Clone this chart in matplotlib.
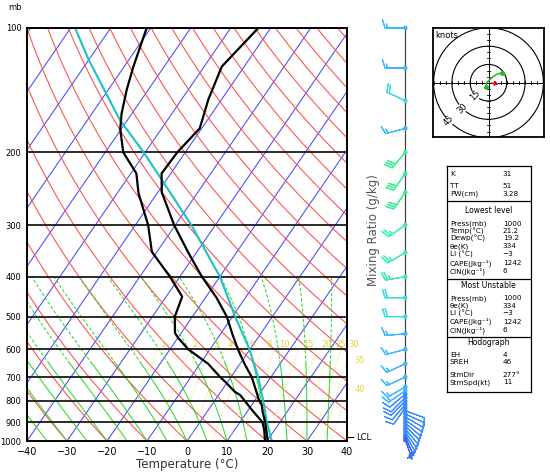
import numpy as np
import matplotlib.pyplot as plt
from matplotlib.colors import LinearSegmentedColormap
from matplotlib.ticker import NullLocator

# sounding (hPa, degC)
p_temp = [1000, 950, 900, 850, 818, 800, 750, 700, 650, 600, 550, 500, 450, 400,
          350, 300, 250, 225, 200, 175, 149, 124, 100]
t_temp = [20.2, 18.3, 16.3, 13.9, 12.5, 11.2, 8.3, 5.2, 1.1, -3.0, -7.1, -11.4, -17.2, -24.5,
          -32.0, -40.3, -49.0, -52.3, -52.0, -50.5, -53.3, -55.6, -53.1]

p_dewp = [1000, 940, 900, 841, 800, 774, 760, 718, 700, 650, 600, 563, 547, 500, 447, 400,
          361, 348, 300, 251, 225, 200, 176, 161, 141, 124, 100]
t_dewp = [19.5, 17.4, 15.6, 10.9, 7.6, 5.4, 3.5, -0.7, -2.7, -8.0, -15.4, -19.9, -21.6, -24.4,
          -26.0, -32.5, -39.0, -41.3, -46.8, -54.7, -58.6, -65.5, -70.2, -72.6, -75.4, -77.7, -81.0]

p_parcel = [1000, 900, 800, 700, 600, 500, 400, 300, 236, 200, 167, 119, 100]
t_parcel = [21.2, 16.7, 12.2, 6.8, -0.1, -9.3, -20.0, -36.0, -50.4, -60.4, -71.9, -90.2, -98.9]

p_lcl = 978

# winds: pressure (hPa), direction (deg), speed (kt)
p_wind = [100, 125, 150, 175, 200, 225, 250, 300, 350, 400, 450, 500, 550, 600, 650, 700,
          740, 755, 770, 785, 800, 815, 830, 845, 860, 875, 890, 905, 920, 935, 950, 965, 980, 995]
wdir = [270, 270, 295, 255, 220, 215, 215, 235, 240, 260, 270, 270, 265, 255, 245, 245,
        240, 235, 230, 225, 225, 220, 215, 110, 115, 120, 125, 130, 135, 140, 145, 150, 155, 160]
wspd = [15, 15, 20, 15, 30, 30, 30, 25, 25, 25, 20, 20, 15, 15, 15, 15,
        15, 15, 10, 10, 10, 10, 10, 10, 10, 10, 10, 10, 10, 10, 10, 10, 5, 5]

# hodograph trace (kt) and storm motion
hodo_u = [-1.9, -1.9, -0.8, 2.7, 6.3, 10.9]
hodo_v = [-3.6, -0.8, 0.8, 4.1, 6.8, 8.2]
storm_dir = 277
storm_spd = 11

p_levels = [100, 200, 300, 400, 500, 600, 700, 800, 900, 1000]
t_ticks = [-40, -30, -20, -10, 0, 10, 20, 30, 40]
mixr_vals = [1, 2, 3, 4, 6, 8, 10, 15, 20, 25, 30, 35, 40]

stab_labels = ['K', 'TT', 'PW(cm)']
stab_values = ['31', '51', '3.28']
low_labels = ['Press(mb)', 'Temp(°C)', 'Dewp(°C)', 'θe(K)', 'LI (°C)',
              'CAPE(Jkg⁻¹)', 'CIN(Jkg⁻¹)']
low_values = ['1000', '21.2', '19.2', '334', '\u22123', '1242', '6']
mu_labels = ['Press(mb)', 'θe(K)', 'LI (°C)', 'CAPE(Jkg⁻¹)', 'CIN(Jkg⁻¹)']
mu_values = ['1000', '334', '\u22123', '1242', '6']
hod_labels = ['EH', 'SREH', 'StmDir', 'StmSpd(kt)']
hod_values = ['4', '46', '277°', '11']

K = 30.8  # skew, degC per ln(p)


def skx(t, p):
    return np.asarray(t, dtype=float) + K * np.log(1000.0 / np.asarray(p, dtype=float))


def moist_adiabat(t0, p):
    # pseudo-adiabat from t0 (degC) at p[0], RK4 in pressure
    Rd, Cp, Lv, eps = 287.04, 1005.7, 2.501e6, 0.622

    def rate(T, pp):
        es = 6.112 * np.exp(17.67 * (T - 273.15) / (T - 29.65))
        rs = eps * es / (pp - es)
        return (Rd * T + Lv * rs) / (pp * (Cp + Lv ** 2 * rs * eps / (Rd * T ** 2)))

    out = [t0 + 273.15]
    for i in range(1, len(p)):
        h = p[i] - p[i - 1]
        T, pp = out[-1], p[i - 1]
        k1 = rate(T, pp)
        k2 = rate(T + h * k1 / 2, pp + h / 2)
        k3 = rate(T + h * k2 / 2, pp + h / 2)
        k4 = rate(T + h * k3, pp + h)
        out.append(T + h * (k1 + 2 * k2 + 2 * k3 + k4) / 6)
    return np.array(out) - 273.15


W, H = 550, 473
fig = plt.figure(figsize=(5.5, 4.73), dpi=100)
bot, hgt = (H - 441) / H, 413 / H
ax = fig.add_axes([27 / W, bot, 320 / W, hgt])
ax.set_yscale('log')
ax.set_xlim(-40, 40)
ax.set_ylim(1000, 100)

pf = np.logspace(3, 2, 200)
for t0 in range(-120, 50, 10):
    ax.plot(skx(t0, pf), pf, color='#4848ff', lw=0.75)
for t0 in range(-40, 210, 10):
    th = t0 + 273.15
    ax.plot(skx(th * (pf / 1000) ** 0.2857 - 273.15, pf), pf, color='#ff4c4c', lw=0.75)

pm = np.arange(1000, 399, -5.0)
for t0 in range(-40, 40, 5):
    tm = moist_adiabat(t0, pm)
    lo = pm >= 650
    hi = pm <= 650
    ax.plot(skx(tm[lo], pm[lo]), pm[lo], color='#2ed82e', lw=0.75)
    ax.plot(skx(tm[hi], pm[hi]), pm[hi], color='#2ed82e', lw=0.75, ls=(0, (3, 2)))

pw = np.linspace(1000, 600, 60)
for w in mixr_vals:
    e = pw * w / (622.0 + w)
    a = np.log(e / 6.112)
    xw = skx(243.5 * a / (17.67 - a), pw)
    ax.plot(xw, pw, color='#ece27a', lw=0.8, ls=':')
    if xw[-1] <= 40:
        ax.text(xw[-1] + 0.6 + 0.04 * w, 585, str(w), color='#e2d43a', fontsize=6,
                ha='left', va='center', clip_on=False)
    else:
        pe = np.interp(40, xw, pw)
        ax.text(41.8, pe, str(w), color='#e2d43a', fontsize=6, ha='left', va='center', clip_on=False)

for p in p_levels[1:-1]:
    ax.axhline(p, color='#1a1a1a', lw=1.3)

ax.plot(skx(t_parcel, p_parcel), p_parcel, color='#18c4c4', lw=1.5)
ax.plot(skx(t_dewp, p_dewp), p_dewp, color='black', lw=1.6)
ax.plot(skx(t_temp, p_temp), p_temp, color='black', lw=1.6)

ax.plot([40, 41.6], [p_lcl, p_lcl], color='black', lw=0.8, clip_on=False)
ax.text(42.3, p_lcl, 'LCL', fontsize=6, va='center', ha='left')

ax.yaxis.set_minor_locator(NullLocator())
ax.set_yticks(p_levels)
ax.set_yticklabels([str(p) for p in p_levels], fontsize=6)
ax.set_xticks(t_ticks)
ax.set_xticklabels([str(t).replace('-', '\u2212') for t in t_ticks], fontsize=7)
ax.tick_params(length=0, pad=4)
ax.set_xlabel('Temperature (°C)', fontsize=8.5, color='#333333', labelpad=1)
for s in ax.spines.values():
    s.set_linewidth(1.4)
fig.text(15 / W, 1 - 8 / H, 'mb', fontsize=6, ha='center', va='center')

# wind barbs
bax = fig.add_axes([372 / W, bot, 50 / W, hgt])
bax.set_yscale('log')
bax.set_ylim(1000, 100)
bax.set_xlim(0, 50)
bax.axis('off')
xs = 33.3
bax.plot([xs, xs], [1000, 100], color='#444444', lw=0.9)
wd = np.radians(wdir)
ws = np.array(wspd, dtype=float)
u = -ws * np.sin(wd)
v = -ws * np.cos(wd)
cmap = LinearSegmentedColormap.from_list('w', ['#3a66ff', '#3c8cff', '#3cb8ff', '#3cdce0', '#3cf0a8', '#3cee90'])
bax.barbs(np.full(len(p_wind), xs), p_wind, u, v, ws, cmap=cmap, clim=(5, 30),
          length=5.4, lw=0.8, clip_on=False, sizes=dict(emptybarb=0))
bax.scatter(np.full(len(p_wind), xs), p_wind, c=ws, cmap=cmap, vmin=5, vmax=30, s=5, zorder=3, clip_on=False)
fig.text(373 / W, 1 - 230 / H, 'Mixing Ratio (g/kg)', rotation=90, fontsize=8.5,
         color='#555555', ha='center', va='center')

# hodograph
hax = fig.add_axes([433 / W, (H - 137.5) / H, 111 / W, 109.5 / H])
hax.set_xlim(-45.5, 45.5)
hax.set_ylim(-44.9, 44.9)
hax.set_xticks([])
hax.set_yticks([])
for s in hax.spines.values():
    s.set_linewidth(1.3)
ang = np.linspace(0, 2 * np.pi, 200)
for r in (15, 30, 45):
    hax.plot(r * np.cos(ang), r * np.sin(ang), color='black', lw=0.8)
    a = np.radians(224)
    hax.text(r * np.cos(a), r * np.sin(a), str(r), fontsize=6, rotation=45, ha='center', va='center',
             bbox=dict(facecolor='white', edgecolor='none', pad=0.2))
hax.plot([-46, 46], [0, 0], color='black', lw=0.7)
hax.plot([0, 0], [-46, 46], color='black', lw=0.7)
for k in range(-45, 50, 5):
    if k == 0:
        continue
    hax.plot([k, k], [-1.3, 1.3], color='black', lw=0.6)
    hax.plot([-1.3, 1.3], [k, k], color='black', lw=0.6)
hax.text(-43.5, 42.5, 'knots', fontsize=6, ha='left', va='top')
hax.plot(hodo_u, hodo_v, color='#22bb22', lw=1.1)
hax.plot([hodo_u[0], hodo_u[-1]], [hodo_v[0], hodo_v[-1]], 'o', color='#22bb22', ms=2.5)
su = -storm_spd * np.sin(np.radians(storm_dir))
sv = -storm_spd * np.cos(np.radians(storm_dir))
hax.annotate('', xy=(su, sv), xytext=(0, 0),
             arrowprops=dict(arrowstyle='-|>', color='red', lw=1.0, mutation_scale=6))

# stability table
tax = fig.add_axes([446.7 / W, (H - 391.7) / H, 84 / W, 226 / H])
tax.set_xlim(0, 84)
tax.set_ylim(226, 0)
tax.set_xticks([])
tax.set_yticks([])
for s in tax.spines.values():
    s.set_linewidth(0.9)
top = 165.7
for yd in (201.5, 278.5, 336.5):
    tax.axhline(yd - top, color='black', lw=0.9)

fs = 5.2


def rows(labels, values, ys):
    for lab, val, y in zip(labels, values, ys):
        tax.text(3.3, y - top, lab, fontsize=fs, va='center', ha='left')
        tax.text(56, y - top, val, fontsize=fs, va='center', ha='left')


rows(stab_labels, stab_values, [173.5, 186.3, 193.6])
tax.text(42, 210.8 - top, 'Lowest level', fontsize=fs + 0.3, ha='center', va='center')
rows(low_labels, low_values, [223.5, 231, 238.5, 246.3, 254.3, 262.8, 271.3])
tax.text(42, 285.5 - top, 'Most Unstable', fontsize=fs + 0.3, ha='center', va='center')
rows(mu_labels, mu_values, [298.3, 305.8, 313.3, 321.5, 329.8])
tax.text(42, 342.5 - top, 'Hodograph', fontsize=fs + 0.3, ha='center', va='center')
rows(hod_labels, hod_values, [355, 362.3, 375, 382.3])

fig.savefig('out.png', dpi=100)
